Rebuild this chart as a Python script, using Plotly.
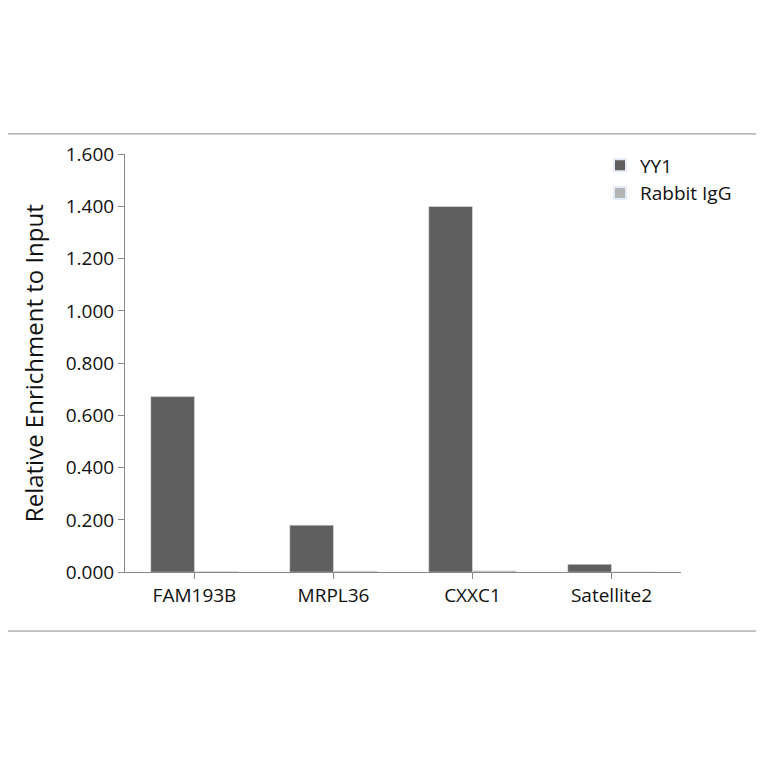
import plotly.graph_objects as go

categories = ["FAM193B", "MRPL36", "CXXC1", "Satellite2"]
yy1 = [0.672, 0.180, 1.400, 0.030]
igg = [0.003, 0.004, 0.005, 0.002]
y_ticks = [0, 0.2, 0.4, 0.6, 0.8, 1.0, 1.2, 1.4, 1.6]
y_labels = ["0.000", "0.200", "0.400", "0.600", "0.800", "1.000", "1.200", "1.400", "1.600"]

W = 748
OFF = 8  # page body margin


def px(p):
    return (p - OFF) / W


def py(p):
    return 1 - (p - OFF) / W


fig = go.Figure()
fig.add_trace(go.Bar(x=categories, y=yy1, name="YY1", marker_color="#5f5f5f"))
fig.add_trace(go.Bar(x=categories, y=igg, name="Rabbit IgG", marker_color="#b4b4b4"))

fig.update_layout(
    width=W, height=W, margin=dict(l=0, r=0, t=0, b=0),
    paper_bgcolor="white", plot_bgcolor="white",
    font=dict(family="Open Sans, Liberation Sans, sans-serif", size=19, color="#111"),
    barmode="group", bargap=0.37, bargroupgap=0,
    xaxis=dict(domain=[px(125), px(681)], showline=True, linecolor="#888",
               ticks="outside", ticklen=6, tickcolor="#888", showgrid=False),
    yaxis=dict(domain=[py(579), py(146)], range=[0, 1.6], tickvals=y_ticks,
               ticktext=y_labels, showline=True, linecolor="#888", ticks="outside",
               ticklen=6, tickcolor="#888", showgrid=False,
               title=dict(text="Relative Enrichment to Input", font=dict(size=24))),
    legend=dict(x=px(600), y=py(138), xanchor="left", yanchor="top",
                font=dict(size=19), itemsizing="constant", tracegroupgap=12),
    shapes=[dict(type="rect", xref="paper", yref="paper", x0=px(5), x1=px(762),
                 y0=py(640), y1=py(125), line=dict(color="#888", width=1))],
)
fig.write_html("out.html")
